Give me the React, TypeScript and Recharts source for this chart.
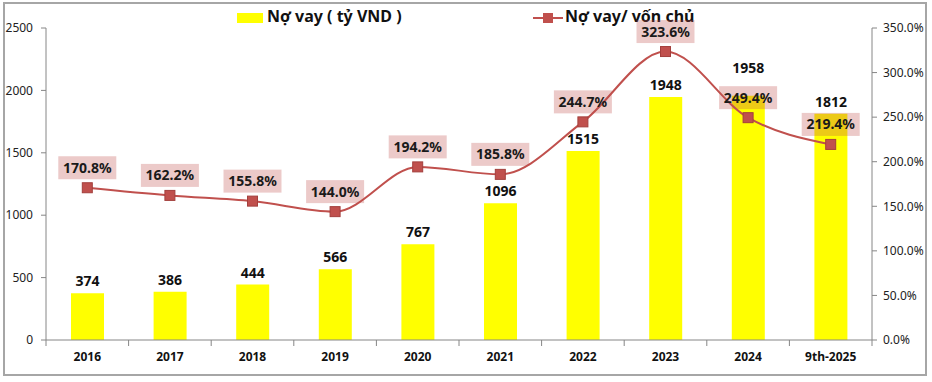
import { ComposedChart, Bar, Line, XAxis, YAxis, LabelList } from 'recharts';

const years = ['2016', '2017', '2018', '2019', '2020', '2021', '2022', '2023', '2024', '9th-2025'];
const debt = [374, 386, 444, 566, 767, 1096, 1515, 1948, 1958, 1812];
const debtToEquity = [170.8, 162.2, 155.8, 144.0, 194.2, 185.8, 244.7, 323.6, 249.4, 219.4];
const leftTicks = [0, 500, 1000, 1500, 2000, 2500];
const rightTicks = [0, 50, 100, 150, 200, 250, 300, 350];

const data = years.map((year, i) => ({ year, debt: debt[i], ratio: debtToEquity[i] }));

const FONT = '"Noto Sans", "Open Sans", sans-serif';
const AXIS = '#868686';
const RED = '#c0504d';
const BAND = 826 / years.length;

const XTick = (props: any) => {
  const { x, y, payload, index } = props;
  return (
    <g>
      <line x1={x - BAND / 2} x2={x - BAND / 2} y1={y - 6} y2={y} stroke={AXIS} />
      {index === years.length - 1 && (
        <line x1={x + BAND / 2} x2={x + BAND / 2} y1={y - 6} y2={y} stroke={AXIS} />
      )}
      <text x={x} y={y + 15} textAnchor="middle" fontSize={12} fontWeight="bold" fill="#111" fontFamily={FONT}>
        {payload.value}
      </text>
    </g>
  );
};

const BarLabel = (props: any) => {
  const { x, y, width, value, index } = props;
  // 2024 label sits above the ratio label in the original
  const lift = index === 8 ? 16 : 0;
  return (
    <text x={x + width / 2} y={y - 7 - lift} textAnchor="middle" fontSize={14} fontWeight="bold" fill="#111" fontFamily={FONT}>
      {value}
    </text>
  );
};

const RatioLabel = (props: any) => {
  const { x, y, value } = props;
  const cy = y - 20;
  return (
    <g>
      <rect x={x - 29} y={cy - 11.5} width={58} height={23} fill={RED} fillOpacity={0.3} />
      <text x={x} y={cy + 5} textAnchor="middle" fontSize={14} fontWeight="bold" fill="#1a1a1a" fontFamily={FONT}>
        {Number(value).toFixed(1)}%
      </text>
    </g>
  );
};

const SquareDot = (props: any) => {
  const { cx, cy } = props;
  return <rect x={cx - 5} y={cy - 5} width={10} height={10} fill={RED} stroke="#a33f3c" strokeWidth={1} />;
};

export default function App() {
  return (
    <div style={{ position: 'relative', width: 932, height: 382, background: '#fff', fontFamily: FONT }}>
      <style>{`body{margin:0}`}</style>
      <div style={{ position: 'absolute', left: 3, top: 2, width: 924, height: 374, border: '2px solid #a6a6a6', boxSizing: 'border-box', pointerEvents: 'none' }} />
      <div style={{ position: 'absolute', top: 5, left: 0, width: 932, height: 22, fontSize: 16, fontWeight: 'bold', color: '#111' }}>
        <div style={{ position: 'absolute', left: 237, top: 8, width: 26, height: 10, background: '#ffff00' }} />
        <div style={{ position: 'absolute', left: 267, top: 0, whiteSpace: 'nowrap' }}>Nợ vay ( tỷ VND )</div>
        <svg style={{ position: 'absolute', left: 533, top: 6 }} width={30} height={14}>
          <line x1={0} x2={30} y1={7} y2={7} stroke={RED} strokeWidth={2} />
          <rect x={10} y={2} width={10} height={10} fill={RED} />
        </svg>
        <div style={{ position: 'absolute', left: 565, top: 0, whiteSpace: 'nowrap' }}>Nợ vay/ vốn chủ</div>
      </div>
      <ComposedChart width={932} height={382} data={data} margin={{ top: 28, right: 0, left: 0, bottom: 12 }}>
        <XAxis
          dataKey="year"
          height={30}
          stroke={AXIS}
          tickLine={false}
          tickSize={6}
          tickMargin={0}
          tick={<XTick />}
          interval={0}
        />
        <YAxis
          yAxisId="left"
          width={46}
          domain={[0, 2500]}
          ticks={leftTicks}
          stroke={AXIS}
          tickSize={5}
          tickMargin={8}
          tick={{ fontSize: 12, fill: '#222', fontFamily: FONT }}
        />
        <YAxis
          yAxisId="right"
          orientation="right"
          width={60}
          domain={[0, 350]}
          ticks={rightTicks}
          stroke={AXIS}
          tickSize={5}
          tickMargin={6}
          tickFormatter={(v: number) => `${v.toFixed(1)}%`}
          tick={{ fontSize: 12, fill: '#222', fontFamily: FONT, textAnchor: 'start' }}
        />
        <Bar yAxisId="left" dataKey="debt" fill="#ffff00" barSize={33} isAnimationActive={false}>
          <LabelList dataKey="debt" content={<BarLabel />} />
        </Bar>
        <Line
          yAxisId="right"
          dataKey="ratio"
          type="monotone"
          stroke={RED}
          strokeWidth={2}
          dot={<SquareDot />}
          activeDot={false}
          isAnimationActive={false}
        >
          <LabelList dataKey="ratio" content={<RatioLabel />} />
        </Line>
      </ComposedChart>
    </div>
  );
}
